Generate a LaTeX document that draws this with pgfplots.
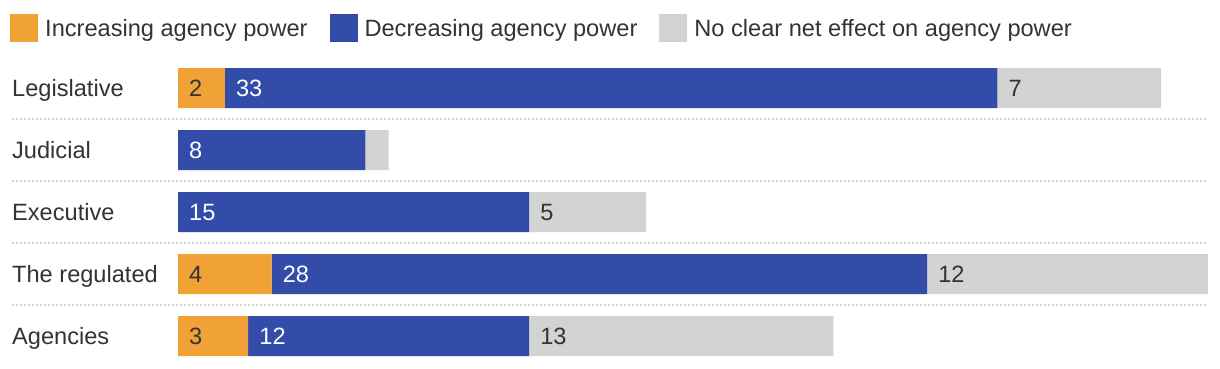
\documentclass[border=0pt]{standalone}
\usepackage{pgfplots}
\pgfplotsset{compat=1.18}
\usepackage{pgfplotstable}
\usepackage{fontspec}
\setmainfont{Liberation Sans}
\definecolor{cOrange}{HTML}{F0A236}
\definecolor{cBlue}{HTML}{334BA9}
\definecolor{cGray}{HTML}{D3D3D3}
\definecolor{cText}{HTML}{333333}
\definecolor{cDot}{HTML}{D4D4D4}
\pgfplotstableread{
cat inc dec none
0 2 33 7
1 0 8 1
2 0 15 5
3 4 28 12
4 3 12 13
}\datatab
\newcommand{\fs}{\fontsize{23.6}{28}\selectfont}
\tikzset{vl/.style={anchor=base west, inner sep=0pt, xshift=11pt, yshift=-8.3pt, font=\fs, text=cText},
  dotl/.style={cDot, line width=2pt, dash pattern=on 2pt off 2pt}}
\begin{document}
\begin{tikzpicture}
\path[use as bounding box] (0,0) rectangle (1220pt,-368pt);
\begin{axis}[
  at={(178pt,-57pt)}, anchor=north west,
  scale only axis, width=1030pt, height=310pt,
  xbar stacked, bar width=40pt,
  xmin=0, xmax=44, ymin=-0.5, ymax=4.5,
  y dir=reverse,
  hide x axis,
  axis y line*=left,
  y axis line style={draw=none},
  ytick={0,1,2,3,4},
  yticklabels={Legislative,Judicial,Executive,The regulated,Agencies},
  major tick length=0pt,
  yticklabel style={anchor=base west, xshift=-166pt, yshift=-8.3pt, inner sep=0pt, font=\fs, text=cText},
  clip=false,
  legend columns=3,
  legend style={at={(-0.1631,1.1387)}, anchor=north west, draw=none, fill=none,
    inner xsep=0pt, inner ysep=0pt, font=\fs, text=cText,
    nodes={inner sep=0pt, anchor=west},
    /tikz/every odd column/.append style={column sep=7pt},
    /tikz/every even column/.append style={column sep=22pt}},
  legend image code/.code={\fill[#1] (0pt,-14pt) rectangle (28pt,14pt);},
]
\addplot[fill=cOrange, draw=none] table[x=inc, y=cat] {\datatab};
\addplot[fill=cBlue, draw=none] table[x=dec, y=cat] {\datatab};
\addplot[fill=cGray, draw=none] table[x=none, y=cat] {\datatab};
\legend{Increasing agency power, Decreasing agency power, No clear net effect on agency power}
\draw[dotl] ([xshift=-166pt]axis cs:0,0.5) -- (axis cs:44,0.5);
\draw[dotl] ([xshift=-166pt]axis cs:0,1.5) -- (axis cs:44,1.5);
\draw[dotl] ([xshift=-166pt]axis cs:0,2.5) -- (axis cs:44,2.5);
\draw[dotl] ([xshift=-166pt]axis cs:0,3.5) -- (axis cs:44,3.5);
\coordinate (L1) at (axis cs:0,0);
\coordinate (L2) at (axis cs:2,0);
\coordinate (L3) at (axis cs:35,0);
\coordinate (J1) at (axis cs:0,1);
\coordinate (E1) at (axis cs:0,2);
\coordinate (E2) at (axis cs:15,2);
\coordinate (R1) at (axis cs:0,3);
\coordinate (R2) at (axis cs:4,3);
\coordinate (R3) at (axis cs:32,3);
\coordinate (A1) at (axis cs:0,4);
\coordinate (A2) at (axis cs:3,4);
\coordinate (A3) at (axis cs:15,4);
\end{axis}
\node[vl] at (L1) {2};
\node[vl, text=white] at (L2) {33};
\node[vl] at (L3) {7};
\node[vl, text=white] at (J1) {8};
\node[vl, text=white] at (E1) {15};
\node[vl] at (E2) {5};
\node[vl] at (R1) {4};
\node[vl, text=white] at (R2) {28};
\node[vl] at (R3) {12};
\node[vl] at (A1) {3};
\node[vl, text=white] at (A2) {12};
\node[vl] at (A3) {13};
\end{tikzpicture}
\end{document}
